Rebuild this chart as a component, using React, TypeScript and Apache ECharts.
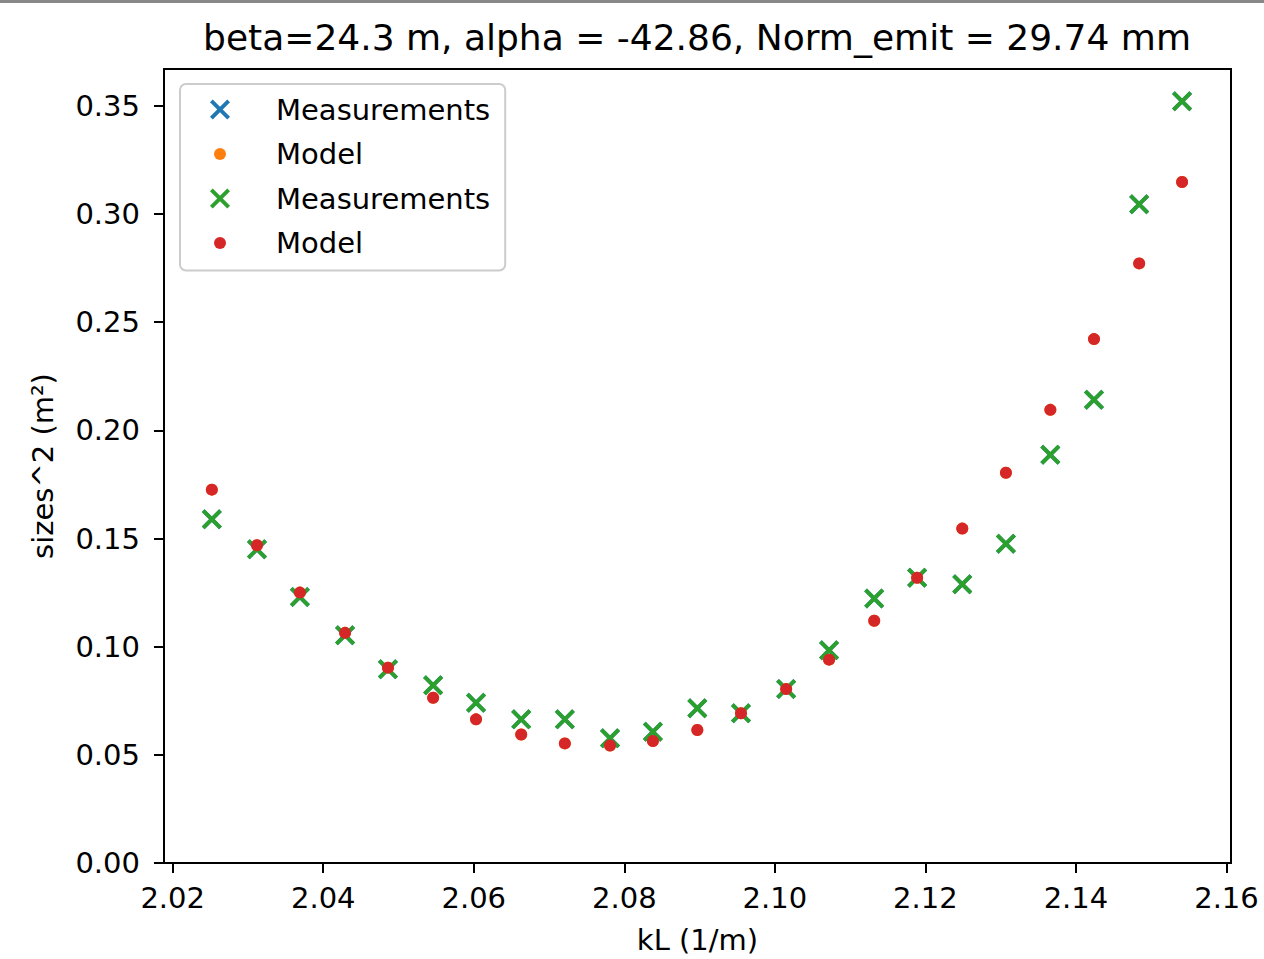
import React, { useEffect, useRef } from "react";
import * as echarts from "echarts";

// kL values (1/m)
const kL = [
  2.0252, 2.0312, 2.0369, 2.0429, 2.0486, 2.0546, 2.0603, 2.0663, 2.0721, 2.0781,
  2.0838, 2.0897, 2.0955, 2.1015, 2.1072, 2.1132, 2.1189, 2.1249, 2.1307, 2.1366,
  2.1424, 2.1484, 2.1541,
];
// measured beam sizes^2
const measurements = [
  0.1589, 0.145, 0.123, 0.1053, 0.0896, 0.0822, 0.0741, 0.0664, 0.0664, 0.0577,
  0.0607, 0.0715, 0.0692, 0.0804, 0.0983, 0.1223, 0.1319, 0.1289, 0.1476, 0.1887,
  0.2142, 0.3045, 0.3522,
];
// model beam sizes^2
const model = [
  0.1726, 0.1469, 0.125, 0.1064, 0.0903, 0.0764, 0.0664, 0.0594, 0.0553, 0.0543,
  0.0564, 0.0615, 0.0692, 0.0804, 0.094, 0.112, 0.1319, 0.1546, 0.1804, 0.2095,
  0.2422, 0.2772, 0.3148,
];
const xTicks = [2.02, 2.04, 2.06, 2.08, 2.1, 2.12, 2.14, 2.16];
const yTicks = [0, 0.05, 0.1, 0.15, 0.2, 0.25, 0.3, 0.35];
const seriesNames = ["Measurements#1", "Model#1", "Measurements#2", "Model#2"];
const seriesColors = ["#1f77b4", "#ff7f0e", "#2ca02c", "#d62728"];
const titleText = "beta=24.3 m, alpha = -42.86, Norm_emit = 29.74 mm";

const X_PATH =
  "path://M3.27,0.73L19.27,16.73L16.73,19.27L0.73,3.27Z" +
  "M16.73,0.73L19.27,3.27L3.27,19.27L0.73,16.73Z";
const DOT_ICON = "path://M0,0M20,20M10,4A6,6,0,1,1,10,16A6,6,0,1,1,10,4Z";

const FONT = "DejaVu Sans";

export default function App() {
  const ref = useRef<HTMLDivElement>(null);
  useEffect(() => {
    document.body.style.margin = "0";
    const chart = echarts.init(ref.current!, null, { renderer: "svg" });
    const measData = kL.map((x, i) => [x, measurements[i]]);
    const modelData = kL.map((x, i) => [x, model[i]]);
    const axisText = { fontSize: 29, color: "#000", fontFamily: FONT };
    chart.setOption({
      animation: false,
      backgroundColor: "#fff",
      title: {
        text: titleText,
        left: 697,
        top: 19,
        textAlign: "center",
        padding: 0,
        textStyle: { fontSize: 36, fontWeight: "normal", color: "#000", fontFamily: FONT },
      },
      graphic: [
        { type: "rect", left: 0, top: 0, shape: { width: 1264, height: 3 }, style: { fill: "#888" } },
      ],
      grid: {
        left: 164,
        right: 33,
        top: 69,
        bottom: 94,
        show: true,
        borderColor: "#000",
        borderWidth: 2,
        backgroundColor: "transparent",
      },
      legend: {
        orient: "vertical",
        left: 180,
        top: 84,
        padding: [11, 15, 13, 30],
        itemGap: 15.5,
        itemWidth: 20,
        itemHeight: 20,
        selectedMode: false,
        borderColor: "#cccccc",
        borderWidth: 2,
        borderRadius: 6,
        backgroundColor: "rgba(255,255,255,0.8)",
        data: [
          { name: seriesNames[0], icon: X_PATH },
          { name: seriesNames[1], icon: DOT_ICON },
          { name: seriesNames[2], icon: X_PATH },
          { name: seriesNames[3], icon: DOT_ICON },
        ],
        formatter: (name: string) => "{p| }" + name.split("#")[0],
        textStyle: {
          fontSize: 29,
          lineHeight: 29,
          color: "#000",
          fontFamily: FONT,
          rich: { p: { width: 41, fontSize: 29, lineHeight: 29 } },
        },
      },
      xAxis: {
        type: "value",
        min: 2.018844,
        max: 2.160601,
        name: "kL (1/m)",
        nameLocation: "middle",
        nameGap: 62,
        nameTextStyle: axisText,
        splitLine: { show: false },
        axisLine: { show: true, lineStyle: { color: "#000", width: 2 } },
        axisTick: { show: true, length: 10, lineStyle: { color: "#000", width: 2 }, customValues: xTicks },
        axisLabel: {
          ...axisText,
          margin: 20,
          customValues: xTicks,
          formatter: (v: number) => v.toFixed(2),
        },
      },
      yAxis: {
        type: "value",
        min: 0,
        max: 0.36706,
        name: "sizes^2 (m²)",
        nameLocation: "middle",
        nameGap: 107,
        nameTextStyle: axisText,
        splitLine: { show: false },
        axisLine: { show: true, lineStyle: { color: "#000", width: 2 } },
        axisTick: { show: true, length: 10, lineStyle: { color: "#000", width: 2 }, customValues: yTicks },
        axisLabel: {
          ...axisText,
          margin: 24,
          customValues: yTicks,
          formatter: (v: number) => v.toFixed(2),
        },
      },
      series: [
        { name: seriesNames[0], type: "scatter", symbol: X_PATH, symbolSize: 20, data: measData, itemStyle: { color: seriesColors[0], opacity: 1 } },
        { name: seriesNames[1], type: "scatter", symbol: "circle", symbolSize: 12, data: modelData, itemStyle: { color: seriesColors[1], opacity: 1 } },
        { name: seriesNames[2], type: "scatter", symbol: X_PATH, symbolSize: 20, data: measData, itemStyle: { color: seriesColors[2], opacity: 1 } },
        { name: seriesNames[3], type: "scatter", symbol: "circle", symbolSize: 12, data: modelData, itemStyle: { color: seriesColors[3], opacity: 1 } },
      ],
    });
    return () => chart.dispose();
  }, []);
  return <div ref={ref} style={{ width: 1264, height: 959 }} />;
}
